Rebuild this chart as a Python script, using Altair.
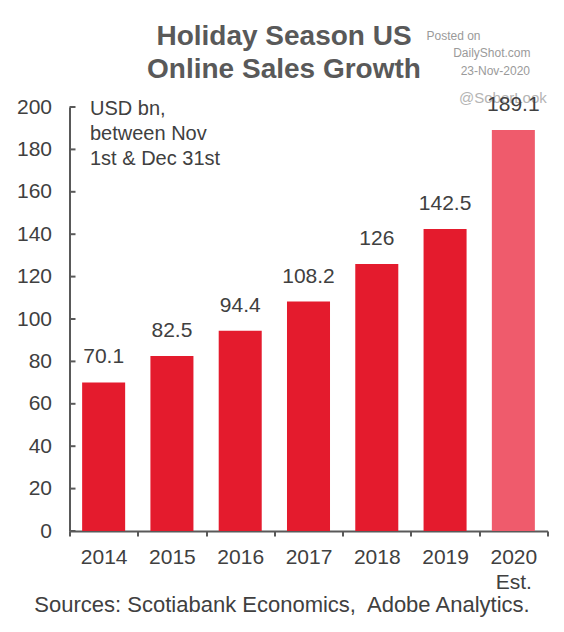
import altair as alt
import pandas as pd

# ---- data ----
YEARS = ["2014", "2015", "2016", "2017", "2018", "2019", "2020"]
SALES = [70.1, 82.5, 94.4, 108.2, 126, 142.5, 189.1]
ESTIMATE_YEAR = "2020"
Y_TICKS = [0, 20, 40, 60, 80, 100, 120, 140, 160, 180, 200]
TITLE_LINES = ["Holiday Season US", "Online Sales Growth"]
UNIT_LINES = ["USD bn,", "between Nov", "1st & Dec 31st"]
SOURCE = "Sources: Scotiabank Economics,\u00a0 Adobe Analytics."
POSTED = "Posted on"
SITE = "DailyShot.com"
DATE = "23-Nov-2020"
HANDLE = "@SoberLook"

FONT = "Liberation Sans"
TEXT = "#404040"
AXIS = "#595959"
RED = "#E41B2D"
LIGHT_RED = "#EF5B6C"

W, H = 478, 424

df = pd.DataFrame({"year": YEARS, "sales": SALES})
tick_df = pd.DataFrame({"sales": Y_TICKS})

x_enc = alt.X(
    "year:N",
    sort=YEARS,
    scale=alt.Scale(paddingInner=0, paddingOuter=0),
    axis=alt.Axis(
        title=None,
        labelAngle=0,
        tickBand="extent",
        tickSize=5,
        tickWidth=2,
        tickColor=AXIS,
        domainColor=AXIS,
        domainWidth=2,
        labelFont=FONT,
        labelFontSize=21,
        labelColor=TEXT,
        labelPadding=10,
        labelLineHeight=25,
        labelExpr="datum.value == '2020' ? ['2020', 'Est.'] : datum.label",
    ),
)
y_scale = alt.Scale(domain=[0, 200], nice=False)
y_axis = alt.Axis(
    title=None,
    values=Y_TICKS,
    ticks=False,
    grid=False,
    domainColor=AXIS,
    domainWidth=2,
    labelFont=FONT,
    labelFontSize=21,
    labelColor=TEXT,
    labelPadding=18,
)
y_enc = alt.Y("sales:Q", scale=y_scale, axis=y_axis)

base = alt.Chart(df)

bars = base.mark_bar(width=alt.RelativeBandSize(0.63)).encode(
    x=x_enc,
    y=y_enc,
    color=alt.condition(
        alt.datum.year == ESTIMATE_YEAR, alt.value(LIGHT_RED), alt.value(RED)
    ),
)

yticks = alt.Chart(tick_df).mark_rule(color=AXIS, strokeWidth=2).encode(
    y=y_enc,
    x=alt.value(0),
    x2=alt.value(6),
)


def note(text, x, y, size, color, align="left", weight="normal", line_height=None):
    kw = dict(
        x=x, y=y, fontSize=size, color=color, align=align, baseline="alphabetic",
        font=FONT, fontWeight=weight,
    )
    if line_height is not None:
        kw["lineHeight"] = line_height
    return alt.Chart(alt.Data(values=[{}])).mark_text(**kw).encode(
        text=alt.value(text)
    )


title = note(TITLE_LINES, 214.5, -62, 28, AXIS, align="center", weight="bold", line_height=33)
units = note(UNIT_LINES, 20.5, 8, 20, TEXT, line_height=25)
posted = note(POSTED, 357, -67.5, 12, "#9a9a9a")
site = note(SITE, 461, -50, 12, "#9a9a9a", align="right")
date = note(DATE, 460.5, -32.5, 12, "#9a9a9a", align="right")
handle = note(HANDLE, 389.5, -4, 15, "#b4b4b4")
source = note(SOURCE, 212.5, 505, 22, TEXT, align="center")

labels = base.mark_text(
    dy=-19, baseline="alphabetic", fontSize=21, font=FONT, color=TEXT
).encode(x=x_enc, y=y_enc, text="sales:Q")

chart = (
    alt.layer(bars, yticks, title, units, posted, site, date, handle, labels, source)
    .properties(
        width=W,
        height=H,
        autosize=alt.AutoSizeParams(type="none"),
        padding={"left": 61.5, "top": 99, "right": 8.5, "bottom": 88},
        background="white",
    )
    .configure_view(strokeWidth=0)
)

chart.save("out.html", embed_options={"renderer": "svg", "actions": False})
